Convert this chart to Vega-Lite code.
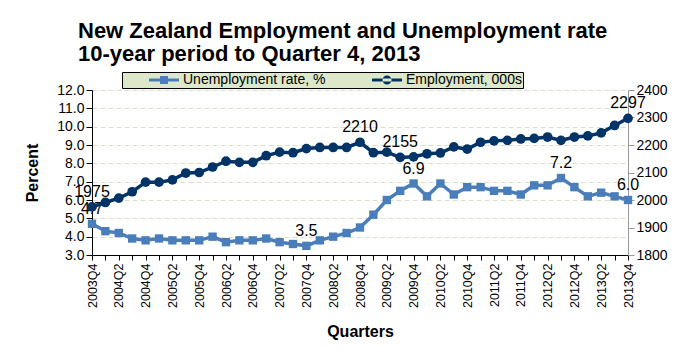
{
  "$schema": "https://vega.github.io/schema/vega-lite/v6.json",
  "autosize": {"type": "none"},
  "width": 536,
  "height": 165,
  "padding": {"left": 92, "top": 90, "right": 51, "bottom": 103},
  "background": "white",
  "config": {
    "font": "Liberation Sans",
    "view": {"stroke": null},
    "axis": {"labelFont": "Liberation Sans", "titleFont": "Liberation Sans", "labelColor": "#000", "titleColor": "#000"}
  },
  "title": {
    "text": ["New Zealand Employment and Unemployment rate", "10-year period to Quarter 4, 2013"],
    "anchor": "start",
    "frame": "group",
    "font": "Liberation Sans",
    "fontSize": 22,
    "fontWeight": "bold",
    "color": "#000",
    "lineHeight": 23,
    "dx": -14,
    "offset": 6
  },
  "datasets": {
    "nz": [
      {"q": "2003Q4", "u": 4.7, "e": 1975},
      {"q": "2004Q1", "u": 4.3, "e": 1991},
      {"q": "2004Q2", "u": 4.2, "e": 2007},
      {"q": "2004Q3", "u": 3.9, "e": 2030},
      {"q": "2004Q4", "u": 3.8, "e": 2065},
      {"q": "2005Q1", "u": 3.9, "e": 2065},
      {"q": "2005Q2", "u": 3.8, "e": 2073},
      {"q": "2005Q3", "u": 3.8, "e": 2098},
      {"q": "2005Q4", "u": 3.8, "e": 2100},
      {"q": "2006Q1", "u": 4.0, "e": 2120},
      {"q": "2006Q2", "u": 3.7, "e": 2141},
      {"q": "2006Q3", "u": 3.8, "e": 2137},
      {"q": "2006Q4", "u": 3.8, "e": 2137},
      {"q": "2007Q1", "u": 3.9, "e": 2161},
      {"q": "2007Q2", "u": 3.7, "e": 2174},
      {"q": "2007Q3", "u": 3.6, "e": 2172},
      {"q": "2007Q4", "u": 3.5, "e": 2187},
      {"q": "2008Q1", "u": 3.8, "e": 2191},
      {"q": "2008Q2", "u": 4.0, "e": 2191},
      {"q": "2008Q3", "u": 4.2, "e": 2191},
      {"q": "2008Q4", "u": 4.5, "e": 2210},
      {"q": "2009Q1", "u": 5.2, "e": 2172},
      {"q": "2009Q2", "u": 6.0, "e": 2174},
      {"q": "2009Q3", "u": 6.5, "e": 2155},
      {"q": "2009Q4", "u": 6.9, "e": 2157},
      {"q": "2010Q1", "u": 6.2, "e": 2168},
      {"q": "2010Q2", "u": 6.9, "e": 2171},
      {"q": "2010Q3", "u": 6.3, "e": 2193},
      {"q": "2010Q4", "u": 6.7, "e": 2185},
      {"q": "2011Q1", "u": 6.7, "e": 2210},
      {"q": "2011Q2", "u": 6.5, "e": 2215},
      {"q": "2011Q3", "u": 6.5, "e": 2217},
      {"q": "2011Q4", "u": 6.3, "e": 2222},
      {"q": "2012Q1", "u": 6.8, "e": 2224},
      {"q": "2012Q2", "u": 6.8, "e": 2229},
      {"q": "2012Q3", "u": 7.2, "e": 2217},
      {"q": "2012Q4", "u": 6.7, "e": 2229},
      {"q": "2013Q1", "u": 6.2, "e": 2233},
      {"q": "2013Q2", "u": 6.4, "e": 2244},
      {"q": "2013Q3", "u": 6.2, "e": 2271},
      {"q": "2013Q4", "u": 6.0, "e": 2297}
    ],
    "series": [
      {"s": "Unemployment rate, %"},
      {"s": "Employment, 000s"}
    ]
  },
  "layer": [
    {
      "data": {"name": "nz"},
      "encoding": {
        "x": {
          "field": "q", "type": "ordinal", "sort": null,
          "scale": {"type": "point", "padding": 0},
          "axis": {
            "title": "Quarters", "titleFontSize": 16, "titleFontWeight": "bold", "titlePadding": 16,
            "labelAngle": -90, "labelFontSize": 12.5, "labelPadding": 3,
            "labelExpr": "(substring(datum.label,4)=='Q2' || substring(datum.label,4)=='Q4') ? datum.label : ''",
            "domainColor": "#000", "tickColor": "#000", "tickSize": 5, "grid": false
          }
        },
        "y": {
          "field": "u", "type": "quantitative",
          "scale": {"domain": [3, 12], "nice": false},
          "axis": {
            "title": "Percent", "titleFontSize": 16, "titleFontWeight": "bold", "titlePadding": 16,
            "values": [3, 4, 5, 6, 7, 8, 9, 10, 11, 12], "format": ".1f",
            "labelFontSize": 14, "labelPadding": 2,
            "domainColor": "#000", "tickColor": "#000", "tickSize": 6,
            "grid": true, "gridColor": "#ddddcc", "gridDash": [5, 3], "gridWidth": 1
          }
        }
      },
      "layer": [
        {
          "mark": {"type": "line", "color": "#4a7ebb", "strokeWidth": 3.5,
                   "point": {"shape": "square", "size": 70, "filled": true, "color": "#4a7ebb"}}
        },
        {
          "transform": [{"filter": {"field": "q", "oneOf": ["2003Q4", "2007Q4", "2009Q4", "2012Q3", "2013Q4"]}}],
          "mark": {"type": "text", "fontSize": 16, "color": "#000", "baseline": "alphabetic", "dy": -10},
          "encoding": {"text": {"field": "u", "type": "quantitative", "format": ".1f"}}
        }
      ]
    },
    {
      "data": {"name": "nz"},
      "encoding": {
        "x": {"field": "q", "type": "ordinal", "sort": null},
        "y": {
          "field": "e", "type": "quantitative",
          "scale": {"domain": [1800, 2400], "nice": false},
          "axis": {
            "orient": "right", "title": null,
            "values": [1800, 1900, 2000, 2100, 2200, 2300, 2400], "format": "d",
            "labelFontSize": 14, "labelPadding": 2,
            "domainColor": "#999999", "tickColor": "#999999", "tickSize": 6, "grid": false
          }
        }
      },
      "layer": [
        {
          "mark": {"type": "line", "color": "#003366", "strokeWidth": 3.5,
                   "point": {"shape": "circle", "size": 95, "filled": true, "color": "#003366"}}
        },
        {
          "transform": [{"filter": {"field": "q", "oneOf": ["2003Q4", "2008Q4", "2009Q3", "2013Q4"]}}],
          "mark": {"type": "text", "fontSize": 16, "color": "#000", "baseline": "alphabetic", "dy": -10},
          "encoding": {"text": {"field": "e", "type": "quantitative", "format": "d"}}
        }
      ]
    },
    {
      "data": {"name": "series"},
      "mark": {"type": "point", "filled": true, "opacity": 0},
      "encoding": {
        "color": {
          "field": "s", "type": "nominal", "sort": null,
          "scale": {"domain": ["Unemployment rate, %", "Employment, 000s"], "range": ["#4a7ebb", "#003366"]},
          "legend": {
            "title": null, "orient": "none", "direction": "horizontal", "columns": 2,
            "legendX": 30, "legendY": -18,
            "fillColor": "#dde8cb", "strokeColor": "#000",
            "padding": 1, "clipHeight": 14, "symbolSize": 900, "symbolStrokeWidth": 0, "symbolOpacity": 1,
            "symbolOffset": 26, "labelOffset": 4, "columnPadding": 20,
            "labelExpr": "datum.label == 'Employment, 000s' ? datum.label + '\u00a0\u00a0\u00a0\u00a0\u00a0\u00a0' : datum.label",
            "labelFont": "Liberation Sans", "labelFontSize": 14, "labelColor": "#000"
          }
        },
        "shape": {
          "field": "s", "type": "nominal", "sort": null,
          "scale": {
            "domain": ["Unemployment rate, %", "Employment, 000s"],
            "range": [
              "M-1,-0.1L1,-0.1L1,0.1L-1,0.1Z M-0.27,-0.27L0.27,-0.27L0.27,0.27L-0.27,0.27Z",
              "M-1,-0.1L1,-0.1L1,0.1L-1,0.1Z M-0.3,0A0.3,0.3 0 1,0 0.3,0A0.3,0.3 0 1,0 -0.3,0Z"
            ]
          },
          "legend": null
        }
      }
    }
  ],
  "resolve": {"scale": {"y": "independent"}}
}
